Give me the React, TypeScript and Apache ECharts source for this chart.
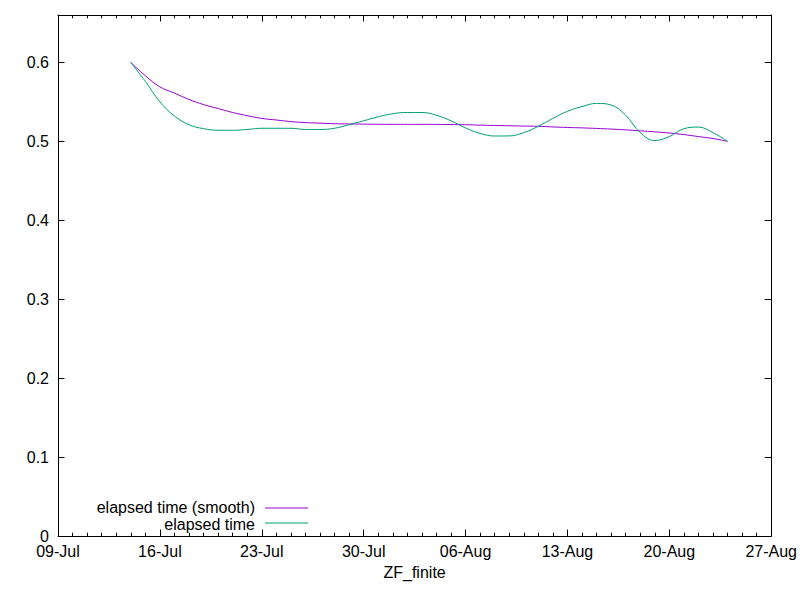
import React, { useEffect, useRef } from "react";
import * as echarts from "echarts";

// Dates of the samples (month-day), starting 14-Jul
const dates: string[] = [
  "07-14", "07-15", "07-16", "07-17", "07-18", "07-19", "07-20", "07-21",
  "07-22", "07-23", "07-24", "07-25", "07-26", "07-27", "07-28", "07-29",
  "07-30", "07-31", "08-01", "08-02", "08-03", "08-04", "08-05", "08-06",
  "08-07", "08-08", "08-09", "08-10", "08-11", "08-12", "08-13", "08-14",
  "08-15", "08-16", "08-17", "08-18", "08-19", "08-20", "08-21", "08-22",
  "08-23", "08-24",
];

const elapsedSmooth: number[] = [
  0.6, 0.583, 0.569, 0.561, 0.553, 0.5465, 0.5415, 0.5365,
  0.5325, 0.529, 0.527, 0.525, 0.5237, 0.523, 0.5223, 0.522,
  0.5218, 0.5216, 0.5215, 0.5215, 0.5215, 0.5214, 0.5212, 0.521,
  0.5205, 0.52, 0.5197, 0.5193, 0.519, 0.5182, 0.5175, 0.517,
  0.5163, 0.5155, 0.5145, 0.5133, 0.512, 0.5105, 0.5085, 0.506,
  0.5035, 0.5,
];

const elapsed: number[] = [
  0.6, 0.576, 0.55, 0.532, 0.521, 0.516, 0.514, 0.514,
  0.515, 0.5165, 0.5165, 0.5165, 0.515, 0.515, 0.5165, 0.521,
  0.526, 0.531, 0.535, 0.5365, 0.5365, 0.533, 0.526, 0.517,
  0.51, 0.5067, 0.5068, 0.511, 0.519, 0.529, 0.538, 0.544,
  0.548, 0.546, 0.533, 0.511, 0.501, 0.506, 0.516, 0.518,
  0.511, 0.5,
];

const axisStartDate = "07-09";
const xTickLabels: string[] = [
  "09-Jul", "16-Jul", "23-Jul", "30-Jul", "06-Aug", "13-Aug", "20-Aug", "27-Aug",
];

const seriesNames = ["elapsed time (smooth)", "elapsed time"];
const seriesColors = ["#9400d3", "#009e73"];
const FONT = "'Liberation Sans', Arial, sans-serif";
const FS = 16;

function dayOffset(md: string): number {
  const [m, d] = md.split("-").map(Number);
  const [m0, d0] = axisStartDate.split("-").map(Number);
  return (Date.UTC(2020, m - 1, d) - Date.UTC(2020, m0 - 1, d0)) / 86400000;
}

export default function App() {
  const ref = useRef<HTMLDivElement>(null);
  useEffect(() => {
    document.body.style.margin = "0";
    if (!ref.current) return;
    const chart = echarts.init(ref.current, undefined, { renderer: "svg" });
    const xs = dates.map(dayOffset);
    const black = "#000";
    const xBase: any = {
      type: "value",
      min: 0,
      max: (xTickLabels.length - 1) * 7,
      interval: 7,
      axisLine: { show: true, onZero: false, lineStyle: { color: black, width: 1 } },
      axisTick: { show: true, inside: true, length: 6.5, lineStyle: { color: black, width: 1 } },
      minorTick: { show: true, splitNumber: 7, length: 3.3, lineStyle: { color: black, width: 1 } },
      splitLine: { show: false },
      minorSplitLine: { show: false },
    };
    const yBase: any = {
      type: "value",
      min: 0,
      max: 0.66,
      interval: 0.1,
      axisLine: { show: true, onZero: false, lineStyle: { color: black, width: 1 } },
      axisTick: { show: true, inside: true, length: 6.5, lineStyle: { color: black, width: 1 } },
      splitLine: { show: false },
    };
    chart.setOption({
      animation: false,
      backgroundColor: "#fff",
      textStyle: { fontFamily: FONT },
      grid: { left: 58, right: 28, top: 15, bottom: 64, containLabel: false },
      xAxis: [
        {
          ...xBase,
          position: "bottom",
          name: "ZF_finite",
          nameLocation: "middle",
          nameGap: 29,
          nameTextStyle: { fontFamily: FONT, fontSize: FS, color: black, lineHeight: 14 },
          axisLabel: {
            show: true,
            margin: 8,
            fontFamily: FONT,
            fontSize: FS,
            lineHeight: 14,
            color: black,
            formatter: (v: number) => xTickLabels[Math.round(v / 7)] ?? "",
          },
        },
        { ...xBase, position: "top", axisLabel: { show: false } },
      ],
      yAxis: [
        {
          ...yBase,
          position: "left",
          axisLabel: {
            show: true,
            margin: 9,
            fontFamily: FONT,
            fontSize: FS,
            lineHeight: 14,
            color: black,
            showMaxLabel: false,
            formatter: (v: number) => (v === 0 ? "0" : String(Math.round(v * 10) / 10)),
          },
        },
        { ...yBase, position: "right", axisLabel: { show: false } },
      ],
      series: [
        {
          name: seriesNames[0],
          type: "line",
          xAxisIndex: 0,
          yAxisIndex: 0,
          data: xs.map((x, i) => [x, elapsedSmooth[i]]),
          showSymbol: false,
          smooth: 0.4,
          lineStyle: { color: seriesColors[0], width: 1 },
          itemStyle: { color: seriesColors[0] },
        },
        {
          name: seriesNames[1],
          type: "line",
          xAxisIndex: 0,
          yAxisIndex: 0,
          data: xs.map((x, i) => [x, elapsed[i]]),
          showSymbol: false,
          smooth: 0.4,
          lineStyle: { color: seriesColors[1], width: 1 },
          itemStyle: { color: seriesColors[1] },
        },
      ],
      graphic: [
        {
          type: "text",
          right: 800 - 255,
          top: 499,
          style: { text: seriesNames[0], fontFamily: FONT, fontSize: FS, lineHeight: 14, fill: black },
        },
        {
          type: "line",
          shape: { x1: 265, y1: 508, x2: 308, y2: 508 },
          style: { stroke: seriesColors[0], lineWidth: 1 },
        },
        {
          type: "text",
          right: 800 - 255,
          top: 516,
          style: { text: seriesNames[1], fontFamily: FONT, fontSize: FS, lineHeight: 14, fill: black },
        },
        {
          type: "line",
          shape: { x1: 265, y1: 523, x2: 308, y2: 523 },
          style: { stroke: seriesColors[1], lineWidth: 1 },
        },
      ],
    });
    return () => chart.dispose();
  }, []);
  return <div ref={ref} style={{ width: 800, height: 600 }} />;
}
